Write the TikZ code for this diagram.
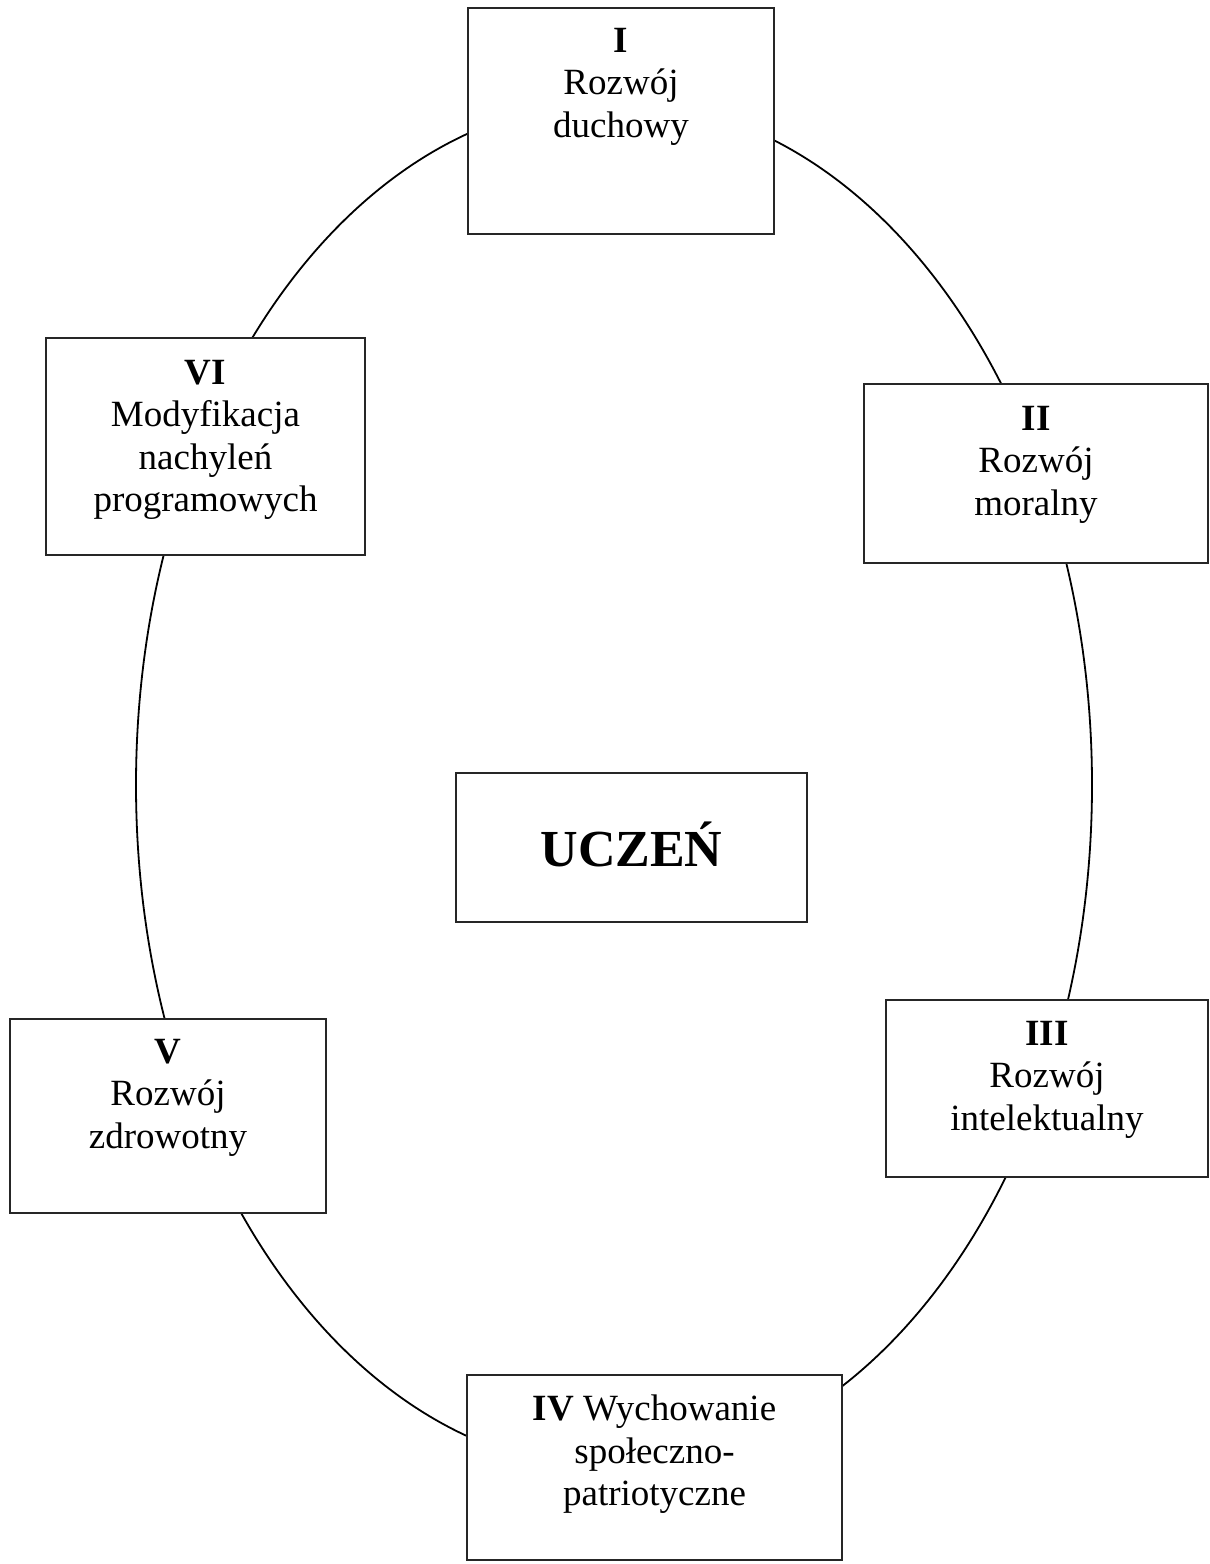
\documentclass[tikz,border=0pt]{standalone}
\usepackage{fontspec}
\setmainfont{Liberation Serif}
\begin{document}
\begin{tikzpicture}[x=1pt,y=-1pt,
  box/.style={draw=black!85, line width=1.6pt, fill=white, inner sep=0pt, outer sep=0pt},
  txt/.style={font=\fontsize{37}{42.5}\selectfont, align=center, inner sep=0pt, anchor=north},
  ring/.style={draw=black, line width=1.8pt}]
\fill[white] (0,0) rectangle (1210,1564);
\useasboundingbox (0,0) rectangle (1210,1564);

% ellipse
\draw[ring] (614,785) ellipse [x radius=478pt, y radius=684pt];

% boxes
\node[box, minimum width=306pt, minimum height=226pt] (b1) at (621,121) {};
\node[box, minimum width=344pt, minimum height=179pt] (b2) at (1036,473.5) {};
\node[box, minimum width=322pt, minimum height=177pt] (b3) at (1047,1088.5) {};
\node[box, minimum width=375pt, minimum height=185pt] (b4) at (654.5,1467.5) {};
\node[box, minimum width=316pt, minimum height=194pt] (b5) at (168,1116) {};
\node[box, minimum width=319pt, minimum height=217pt] (b6) at (205.5,446.5) {};
\node[box, minimum width=351pt, minimum height=149pt] (bu) at (631.5,847.5) {};

% texts
\node[txt] (t1) at ([yshift=-20pt]b1.north) {\textbf{I}\\Rozwój\\duchowy};
\node[txt] (t2) at ([yshift=-22pt]b2.north) {\textbf{II}\\Rozwój\\moralny};
\node[txt] (t3) at ([yshift=-21pt]b3.north) {\textbf{III}\\Rozwój\\intelektualny};
\node[txt] (t4) at ([yshift=-20pt]b4.north) {\textbf{IV} Wychowanie\\społeczno-\\patriotyczne};
\node[txt] (t5) at ([yshift=-20pt]b5.north) {\textbf{V}\\Rozwój\\zdrowotny};
\node[txt] (t6) at ([yshift=-22pt]b6.north) {\textbf{VI}\\Modyfikacja\\nachyleń\\programowych};
\node[font=\fontsize{52}{60}\selectfont\bfseries, inner sep=0pt, anchor=base] (tu) at ([yshift=-18.5pt]bu.center) {UCZEŃ};
\end{tikzpicture}
\end{document}
